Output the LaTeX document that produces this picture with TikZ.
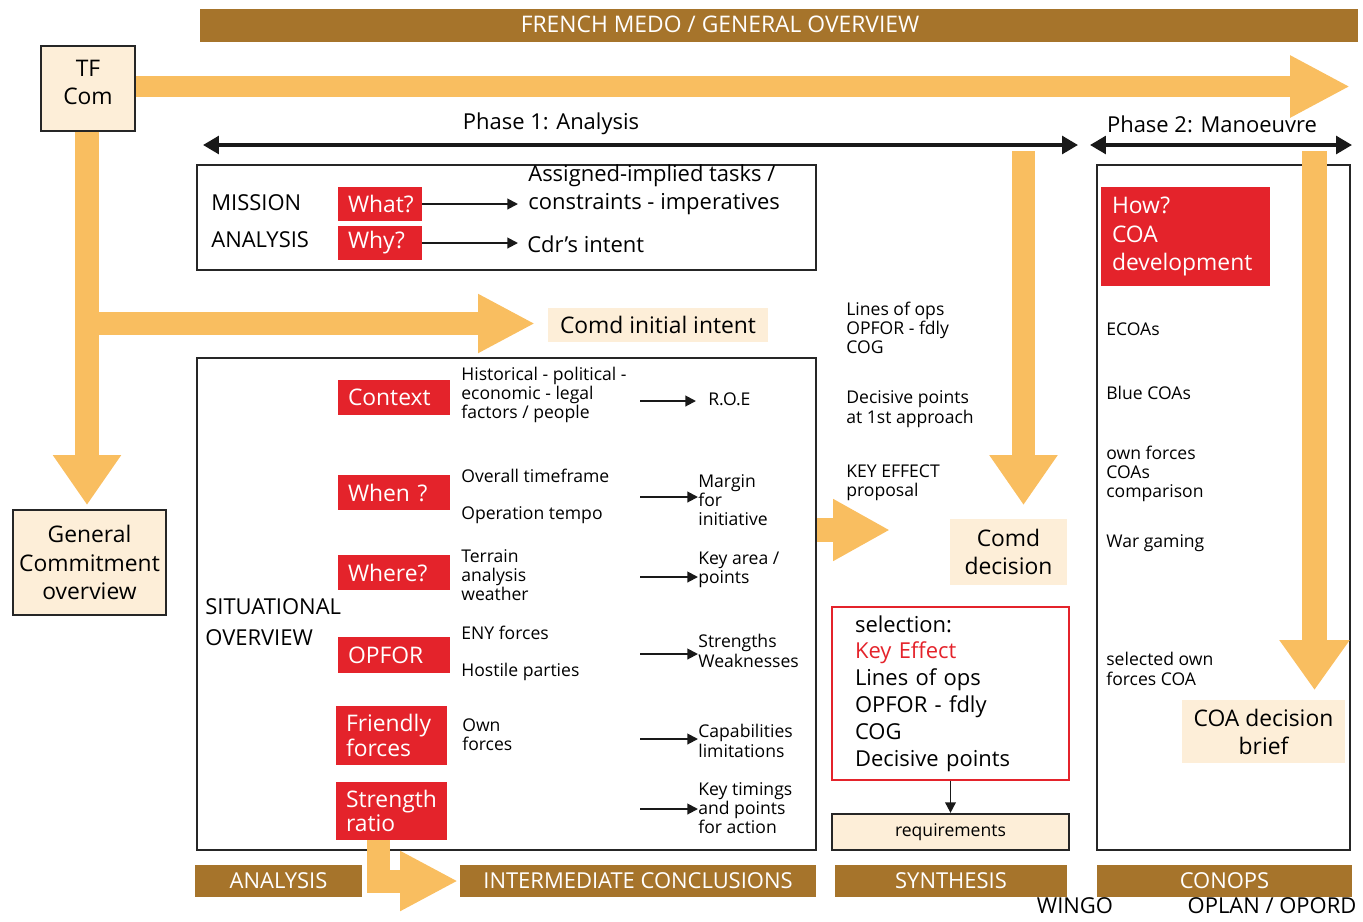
\documentclass[tikz,border=0pt]{standalone}
\usepackage{fontspec}
\setmainfont{Open Sans}
\usetikzlibrary{arrows.meta}
\definecolor{mbrown}{RGB}{166,116,43}
\definecolor{morange}{RGB}{249,190,96}
\definecolor{mred}{RGB}{228,35,43}
\definecolor{mbeige}{RGB}{253,238,216}
\tikzset{
 fbig/.style={font=\fontsize{12.5}{16}\selectfont},
 fsmall/.style={font=\fontsize{10}{11}\selectfont},
 txt/.style={inner sep=0pt, anchor=west, align=left},
 redbox/.style={fill=mred, text=white, font=\fontsize{13}{14}\selectfont, align=left, inner xsep=0.2cm, inner ysep=0pt},
 bar/.style={fill=mbrown, text=white, font=\fontsize{12.5}{15}\selectfont, minimum height=0.64cm, inner sep=0pt},
 beigebox/.style={fill=mbeige, align=center, font=\fontsize{13}{16}\selectfont, inner sep=0pt},
 boxline/.style={draw=black!85, line width=1.3pt},
 band/.style={draw=morange, line join=miter},
 phasearrow/.style={draw=black!90, line width=2pt, {Triangle[length=9pt,width=10pt]}-{Triangle[length=9pt,width=10pt]}},
 sarrow/.style={draw=black!90, line width=1.1pt, -{Triangle[length=6pt,width=6pt]}},
}
\begin{document}
\begin{tikzpicture}[x=0.02cm,y=-0.02cm]
\useasboundingbox (0,0) rectangle (1363,921);

% title bar
\node[bar, minimum width=23.16cm, minimum height=0.66cm] (title) at (779,25.5) {};
\node[inner sep=0pt, text=white, font=\fontsize{13}{15}\selectfont] (titletxt) at (720,24) {FRENCH MEDO / GENERAL OVERVIEW};

% frames
\node[boxline, minimum width=12.38cm, minimum height=2.1cm, inner sep=0pt] (mission) at (506.5,217.5) {};
\node[boxline, minimum width=12.38cm, minimum height=9.84cm, inner sep=0pt] (sit) at (506.5,604) {};
\node[boxline, minimum width=5.06cm, minimum height=13.7cm, inner sep=0pt] (ph2) at (1223.5,507.5) {};

% beige boxes
\node[beigebox, boxline, minimum width=1.88cm, minimum height=1.7cm] (tf) at (88,88.5) {TF\\Com\\[-9pt]};
\node[beigebox, boxline, minimum width=3.06cm, minimum height=2.1cm] (gc) at (89.5,562.5) {General\\Commitment\\overview};
\node[beigebox, minimum width=4.4cm, minimum height=0.68cm] (cii) at (658,325) {Comd initial intent};
\node[beigebox, minimum width=2.34cm, minimum height=1.32cm] (cd) at (1008.5,552) {Comd\\decision};
\node[beigebox, minimum width=3.26cm, minimum height=1.26cm] (coab) at (1263.5,731.5) {COA decision\\brief};
\node[beigebox, boxline, minimum width=4.74cm, minimum height=0.72cm, font=\fontsize{10}{12}\selectfont] (req) at (950.5,832) {requirements};

% selection box
\node[draw=mred, line width=1.1pt, minimum height=3.46cm, text width=3.82cm, inner xsep=0.46cm, align=left, font=\fontsize{12.5}{15.3}\selectfont] (sel) at (950.5,693.5) {selection:\\\textcolor{mred}{Key Effect}\\Lines of ops\\OPFOR - fdly\\COG\\Decisive points};
\draw[sarrow] (sel.south) -- (req.north);

% phase arrows
\coordinate (p1a) at (203,145);
\coordinate (p1b) at (1078,145);
\coordinate (p2a) at (1090,145);
\coordinate (p2b) at (1352,145);
\draw[phasearrow] (p1a) -- (p1b);
\draw[phasearrow] (p2a) -- (p2b);
\node[fbig, inner sep=0pt] (ph1lbl) at (551,124) {Phase 1: Analysis};
\node[fbig, inner sep=0pt] (ph2lbl) at (1212,124) {Phase 2: Manoeuvre};

% mission analysis
\node[txt, fbig] (mis) at (211,203) {MISSION};
\node[txt, fbig] (ana) at (211,240) {ANALYSIS};
\node[redbox, text width=1.28cm, minimum height=0.68cm] (what) at (380,204) {What?};
\node[redbox, text width=1.28cm, minimum height=0.68cm] (why) at (380,243) {Why?};
\node[txt, fbig] (asg) at (528,190) {Assigned-implied tasks /\\constraints - imperatives};
\node[txt, fbig] (cdr) at (527,244) {Cdr's intent};
\coordinate (whatend) at (518,204);
\coordinate (whyend) at (518,243);
\draw[sarrow] (what.east) -- (whatend);
\draw[sarrow] (why.east) -- (whyend);

% situational overview
\node[txt, font=\fontsize{12.5}{18}\selectfont] (sitlbl) at (205,622) {SITUATIONAL\\OVERVIEW};
\node[redbox, text width=1.84cm, minimum height=0.7cm] (ctx) at (394,397.5) {Context};
\node[redbox, text width=1.84cm, minimum height=0.7cm] (when) at (394,492.5) {When ?};
\node[redbox, text width=1.84cm, minimum height=0.7cm] (where) at (394,572.5) {Where?};
\node[redbox, text width=1.84cm, minimum height=0.72cm] (opf) at (394,655) {OPFOR};
\node[redbox, text width=1.82cm, minimum height=1.18cm] (fri) at (391.5,735.5) {Friendly\\forces};
\node[redbox, text width=1.82cm, minimum height=1.16cm] (str) at (391.5,811) {Strength\\ratio};

\node[txt, fsmall] (hist) at (461,395) {Historical - political -\\economic - legal\\factors / people};
\node[txt, fsmall] (otf) at (461,476) {Overall timeframe};
\node[txt, fsmall] (otp) at (461,515) {Operation tempo};
\node[txt, fsmall] (ter) at (461,575) {Terrain\\analysis\\weather};
\node[txt, fsmall] (eny) at (461,633) {ENY forces};
\node[txt, fsmall] (hos) at (461,672) {Hostile parties};
\node[txt, fsmall] (own) at (462,735) {Own\\forces};

\node[txt, fsmall] (roe) at (708,399) {R.O.E};
\node[txt, fsmall] (mar) at (698,500) {Margin\\for\\initiative};
\node[txt, fsmall] (kap) at (698,570) {Key area /\\points};
\node[txt, fsmall] (sw) at (698,651) {Strengths\\Weaknesses};
\node[txt, fsmall] (cap) at (698,741) {Capabilities\\limitations};
\node[txt, fsmall] (kt) at (698,808) {Key timings\\and points\\for action};

\coordinate (r1) at (640,401);
\coordinate (r2) at (640,497);
\coordinate (r3) at (640,577);
\coordinate (r4) at (640,654);
\coordinate (r5) at (640,739);
\coordinate (r6) at (640,809);
\draw[sarrow] (r1) -- (r1 -| 696,0);
\draw[sarrow] (r2) -- (r2 -| mar.west);
\draw[sarrow] (r3) -- (r3 -| kap.west);
\draw[sarrow] (r4) -- (r4 -| sw.west);
\draw[sarrow] (r5) -- (r5 -| cap.west);
\draw[sarrow] (r6) -- (r6 -| kt.west);

% synthesis column
\node[txt, fsmall] (loo) at (846,328) {Lines of ops\\OPFOR - fdly\\COG};
\node[txt, fsmall] (dp) at (846,409) {Decisive points\\at 1st approach};
\node[txt, fsmall] (ke) at (846,483) {KEY EFFECT\\proposal};

% phase 2 column
\node[redbox, text width=2.94cm, minimum height=1.98cm, inner xsep=0.22cm, font=\fontsize{13}{16}\selectfont] (how) at (1185.5,236.5) {How?\\COA\\development};
\node[txt, fsmall] (ecoa) at (1106,329) {ECOAs};
\node[txt, fsmall] (blue) at (1106,393) {Blue COAs};
\node[txt, fsmall] (ownc) at (1106,474) {own forces\\COAs\\comparison};
\node[txt, fsmall] (war) at (1106,543) {War gaming};
\node[txt, fsmall] (selc) at (1106,669) {selected own\\forces COA};

% bottom bars
\node[bar, minimum width=3.34cm] (b1) at (278.5,881) {ANALYSIS};
\node[bar, minimum width=7.12cm] (b2) at (638,881) {INTERMEDIATE CONCLUSIONS};
\node[bar, minimum width=4.64cm] (b3) at (951,881) {SYNTHESIS};
\node[bar, minimum width=5.1cm] (b4) at (1224.5,881) {CONOPS};
\node[inner sep=0pt, fbig] (wingo) at (1075,906) {WINGO};
\node[inner sep=0pt, fbig] (oplan) at (1272,906) {OPLAN / OPORD};

% orange arrows
\coordinate (topend) at (1350,86.5);
\draw[band, line width=0.42cm, -{Triangle[length=1.2cm,width=1.16cm]}] (tf.east |- topend) -- (topend);
\coordinate (gcend) at (87,505);
\draw[band, line width=0.48cm, -{Triangle[length=1.0cm,width=1.3cm]}] (tf.south -| gcend) -- (gcend);
\coordinate (brstart) at (87,323.5);
\coordinate (brend) at (535,323.5);
\draw[band, line width=0.46cm, -{Triangle[length=1.14cm,width=1.1cm]}] (brstart) -- (brend);
\coordinate (p1top) at (1023.5,151);
\coordinate (p1end) at (1023.5,505);
\draw[band, line width=0.46cm, -{Triangle[length=1.0cm,width=1.3cm]}] (p1top) -- (p1end);
\coordinate (p2top) at (1314.5,151);
\coordinate (p2end) at (1314.5,690);
\draw[band, line width=0.5cm, -{Triangle[length=1.0cm,width=1.34cm]}] (p2top) -- (p2end);
\coordinate (midend) at (890,530);
\draw[band, line width=0.48cm, -{Triangle[length=1.14cm,width=1.16cm]}] (sit.east |- midend) -- (midend);
\coordinate (lstart) at (378,840);
\coordinate (lend) at (458,881);
\draw[band, line width=0.46cm, -{Triangle[length=1.16cm,width=1.12cm]}] (lstart) |- (lend);
\end{tikzpicture}
\end{document}
